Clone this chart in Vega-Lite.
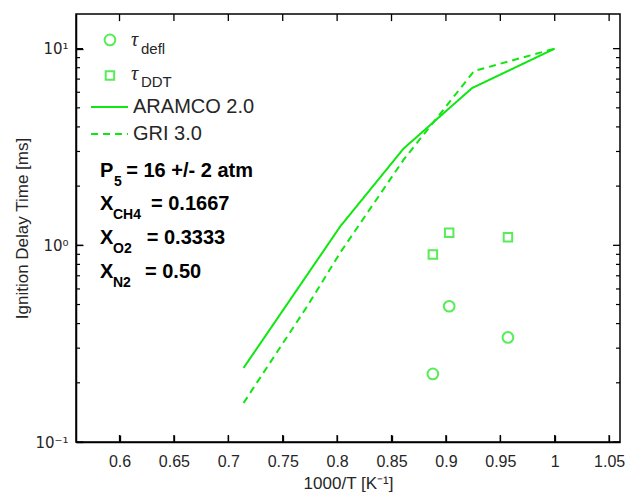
{
  "$schema": "https://vega.github.io/schema/vega-lite/v6.json",
  "width": 544,
  "height": 428,
  "autosize": {"type": "none"},
  "padding": {"left": 76, "top": 14, "right": 12, "bottom": 58},
  "background": "white",
  "config": {
    "view": {"stroke": "#000", "strokeWidth": 1.5},
    "axis": {
      "grid": false,
      "domainColor": "#000",
      "domainWidth": 1.5,
      "labelFont": "Liberation Sans",
      "titleFont": "Liberation Sans",
      "labelFontSize": 16,
      "titleFontSize": 17,
      "titleFontWeight": "normal",
      "labelColor": "#262626",
      "titleColor": "#262626"
    }
  },
  "datasets": {
    "model": [
      {"model": "ARAMCO 2.0", "x": 0.714, "y": 0.238},
      {"model": "ARAMCO 2.0", "x": 0.803, "y": 1.25},
      {"model": "ARAMCO 2.0", "x": 0.861, "y": 3.1},
      {"model": "ARAMCO 2.0", "x": 0.924, "y": 6.3},
      {"model": "ARAMCO 2.0", "x": 1.0, "y": 10.0},
      {"model": "GRI 3.0", "x": 0.714, "y": 0.158},
      {"model": "GRI 3.0", "x": 0.772, "y": 0.485},
      {"model": "GRI 3.0", "x": 0.803, "y": 0.92},
      {"model": "GRI 3.0", "x": 0.861, "y": 2.72},
      {"model": "GRI 3.0", "x": 0.926, "y": 7.7},
      {"model": "GRI 3.0", "x": 1.0, "y": 10.0}
    ],
    "exp": [
      {"kind": "circle", "x": 0.888, "y": 0.222},
      {"kind": "circle", "x": 0.903, "y": 0.49},
      {"kind": "circle", "x": 0.957, "y": 0.34},
      {"kind": "square", "x": 0.888, "y": 0.897},
      {"kind": "square", "x": 0.903, "y": 1.16},
      {"kind": "square", "x": 0.957, "y": 1.1}
    ],
    "legendSym": [
      {"kind": "circle", "x": 0.5912, "y": 11.07},
      {"kind": "square", "x": 0.5912, "y": 7.3}
    ],
    "legendLine": [
      {"model": "ARAMCO 2.0", "x": 0.5738, "y": 5.05},
      {"model": "ARAMCO 2.0", "x": 0.6078, "y": 5.05},
      {"model": "GRI 3.0", "x": 0.5738, "y": 3.68},
      {"model": "GRI 3.0", "x": 0.6078, "y": 3.68}
    ],
    "xTicks": [
      {"v": 0.6}, {"v": 0.65}, {"v": 0.7}, {"v": 0.75}, {"v": 0.8},
      {"v": 0.85}, {"v": 0.9}, {"v": 0.95}, {"v": 1.0}, {"v": 1.05}
    ],
    "yMajor": [{"v": 0.1}, {"v": 1}, {"v": 10}],
    "yMinor": [
      {"v": 0.2}, {"v": 0.3}, {"v": 0.4}, {"v": 0.5}, {"v": 0.6}, {"v": 0.7}, {"v": 0.8}, {"v": 0.9},
      {"v": 2}, {"v": 3}, {"v": 4}, {"v": 5}, {"v": 6}, {"v": 7}, {"v": 8}, {"v": 9}
    ],
    "texts": [
      {"kind": "tau", "text": "τ", "x": 0.6106, "y": 11.07},
      {"kind": "tau", "text": "τ", "x": 0.6106, "y": 7.45},
      {"kind": "sub", "text": "defl", "x": 0.6197, "y": 9.39},
      {"kind": "sub", "text": "DDT", "x": 0.6197, "y": 6.38},
      {"kind": "leg", "text": "ARAMCO 2.0", "x": 0.6124, "y": 5.05},
      {"kind": "leg", "text": "GRI 3.0", "x": 0.6124, "y": 3.68},
      {"kind": "bold", "text": "P", "x": 0.5821, "y": 2.387},
      {"kind": "bold", "text": "= 16 +/- 2 atm", "x": 0.6062, "y": 2.387},
      {"kind": "bold", "text": "X", "x": 0.5821, "y": 1.623},
      {"kind": "bold", "text": "= 0.1667", "x": 0.6289, "y": 1.623},
      {"kind": "bold", "text": "X", "x": 0.5821, "y": 1.09},
      {"kind": "bold", "text": "= 0.3333", "x": 0.625, "y": 1.09},
      {"kind": "bold", "text": "X", "x": 0.5821, "y": 0.732},
      {"kind": "bold", "text": "= 0.50", "x": 0.6234, "y": 0.732},
      {"kind": "boldsub", "text": "5", "x": 0.5949, "y": 2.099},
      {"kind": "boldsub", "text": "CH4", "x": 0.594, "y": 1.427},
      {"kind": "boldsub", "text": "O2", "x": 0.594, "y": 0.958},
      {"kind": "boldsub", "text": "N2", "x": 0.594, "y": 0.643}
    ]
  },
  "layer": [
    {
      "data": {"name": "model"},
      "mark": {"type": "line", "color": "#10e610", "strokeWidth": 2},
      "encoding": {
        "x": {
          "field": "x", "type": "quantitative",
          "scale": {"domain": [0.56, 1.06], "nice": false, "zero": false},
          "axis": {
            "orient": "bottom",
            "values": [0.6, 0.65, 0.7, 0.75, 0.8, 0.85, 0.9, 0.95, 1, 1.05],
            "labelExpr": "format(datum.value, '.2~f')",
            "tickSize": -7, "tickColor": "#000", "tickWidth": 1.3,
            "labelPadding": 18,
            "title": "1000/T [K⁻¹]",
            "titlePadding": 6
          }
        },
        "y": {
          "field": "y", "type": "quantitative",
          "scale": {"type": "log", "domain": [0.1, 15], "nice": false},
          "axis": {
            "orient": "left",
            "values": [0.1, 1, 10],
            "labelExpr": "datum.value >= 5 ? '10¹' : datum.value >= 0.5 ? '10⁰' : '10⁻¹'",
            "labelFont": "DejaVu Sans",
            "labelFontSize": 15,
            "tickSize": -7, "tickColor": "#000", "tickWidth": 1.3,
            "labelPadding": 15,
            "title": "Ignition Delay Time [ms]",
            "titlePadding": 3
          }
        },
        "strokeDash": {
          "field": "model", "type": "nominal",
          "scale": {"domain": ["ARAMCO 2.0", "GRI 3.0"], "range": [[1, 0], [7, 5]]},
          "legend": null
        }
      }
    },
    {
      "data": {"name": "xTicks"},
      "mark": {"type": "rule", "color": "#000", "strokeWidth": 1.3},
      "encoding": {
        "x": {"field": "v", "type": "quantitative", "axis": null},
        "y": {"datum": 0.1, "type": "quantitative", "axis": null},
        "y2": {"datum": 0.1085}
      }
    },
    {
      "data": {"name": "xTicks"},
      "mark": {"type": "rule", "color": "#000", "strokeWidth": 1.3},
      "encoding": {
        "x": {"field": "v", "type": "quantitative", "axis": null},
        "y": {"datum": 13.8, "type": "quantitative", "axis": null},
        "y2": {"datum": 15}
      }
    },
    {
      "data": {"name": "yMajor"},
      "mark": {"type": "rule", "color": "#000", "strokeWidth": 1.3},
      "encoding": {
        "y": {"field": "v", "type": "quantitative", "axis": null},
        "x": {"datum": 0.56, "type": "quantitative", "axis": null},
        "x2": {"datum": 0.5664}
      }
    },
    {
      "data": {"name": "yMajor"},
      "mark": {"type": "rule", "color": "#000", "strokeWidth": 1.3},
      "encoding": {
        "y": {"field": "v", "type": "quantitative", "axis": null},
        "x": {"datum": 1.0536, "type": "quantitative", "axis": null},
        "x2": {"datum": 1.06}
      }
    },
    {
      "data": {"name": "yMinor"},
      "mark": {"type": "rule", "color": "#000", "strokeWidth": 1.2},
      "encoding": {
        "y": {"field": "v", "type": "quantitative", "axis": null},
        "x": {"datum": 0.56, "type": "quantitative", "axis": null},
        "x2": {"datum": 0.5637}
      }
    },
    {
      "data": {"name": "yMinor"},
      "mark": {"type": "rule", "color": "#000", "strokeWidth": 1.2},
      "encoding": {
        "y": {"field": "v", "type": "quantitative", "axis": null},
        "x": {"datum": 1.0563, "type": "quantitative", "axis": null},
        "x2": {"datum": 1.06}
      }
    },
    {
      "data": {"name": "exp"},
      "mark": {"type": "point", "filled": false, "color": "#10e610", "strokeWidth": 2},
      "encoding": {
        "x": {"field": "x", "type": "quantitative", "axis": null},
        "y": {"field": "y", "type": "quantitative", "axis": null},
        "shape": {
          "field": "kind", "type": "nominal",
          "scale": {"domain": ["circle", "square"], "range": ["circle", "square"]},
          "legend": null
        },
        "size": {
          "field": "kind", "type": "nominal",
          "scale": {"domain": ["circle", "square"], "range": [115, 72]},
          "legend": null
        }
      }
    },
    {
      "data": {"name": "legendSym"},
      "mark": {"type": "point", "filled": false, "color": "#10e610", "strokeWidth": 2},
      "encoding": {
        "x": {"field": "x", "type": "quantitative", "axis": null},
        "y": {"field": "y", "type": "quantitative", "axis": null},
        "shape": {"field": "kind", "type": "nominal", "legend": null},
        "size": {"field": "kind", "type": "nominal", "legend": null}
      }
    },
    {
      "data": {"name": "legendLine"},
      "mark": {"type": "line", "color": "#10e610", "strokeWidth": 2},
      "encoding": {
        "x": {"field": "x", "type": "quantitative", "axis": null},
        "y": {"field": "y", "type": "quantitative", "axis": null},
        "strokeDash": {"field": "model", "type": "nominal", "legend": null}
      }
    },
    {
      "data": {"name": "texts"},
      "transform": [{"filter": "datum.kind == 'tau'"}],
      "mark": {"type": "text", "align": "left", "baseline": "middle", "font": "Liberation Serif", "fontStyle": "italic", "fontSize": 20, "color": "#262626"},
      "encoding": {
        "x": {"field": "x", "type": "quantitative", "axis": null},
        "y": {"field": "y", "type": "quantitative", "axis": null},
        "text": {"field": "text"}
      }
    },
    {
      "data": {"name": "texts"},
      "transform": [{"filter": "datum.kind == 'sub'"}],
      "mark": {"type": "text", "align": "left", "baseline": "alphabetic", "font": "Liberation Sans", "fontSize": 15, "color": "#262626"},
      "encoding": {
        "x": {"field": "x", "type": "quantitative", "axis": null},
        "y": {"field": "y", "type": "quantitative", "axis": null},
        "text": {"field": "text"}
      }
    },
    {
      "data": {"name": "texts"},
      "transform": [{"filter": "datum.kind == 'leg'"}],
      "mark": {"type": "text", "align": "left", "baseline": "middle", "font": "Liberation Sans", "fontSize": 20, "color": "#262626"},
      "encoding": {
        "x": {"field": "x", "type": "quantitative", "axis": null},
        "y": {"field": "y", "type": "quantitative", "axis": null},
        "text": {"field": "text"}
      }
    },
    {
      "data": {"name": "texts"},
      "transform": [{"filter": "datum.kind == 'bold'"}],
      "mark": {"type": "text", "align": "left", "baseline": "middle", "font": "Liberation Sans", "fontWeight": "bold", "fontSize": 20, "color": "#000"},
      "encoding": {
        "x": {"field": "x", "type": "quantitative", "axis": null},
        "y": {"field": "y", "type": "quantitative", "axis": null},
        "text": {"field": "text"}
      }
    },
    {
      "data": {"name": "texts"},
      "transform": [{"filter": "datum.kind == 'boldsub'"}],
      "mark": {"type": "text", "align": "left", "baseline": "middle", "font": "Liberation Sans", "fontWeight": "bold", "fontSize": 14, "color": "#000"},
      "encoding": {
        "x": {"field": "x", "type": "quantitative", "axis": null},
        "y": {"field": "y", "type": "quantitative", "axis": null},
        "text": {"field": "text"}
      }
    }
  ],
  "resolve": {"axis": {"x": "independent", "y": "independent"}}
}
